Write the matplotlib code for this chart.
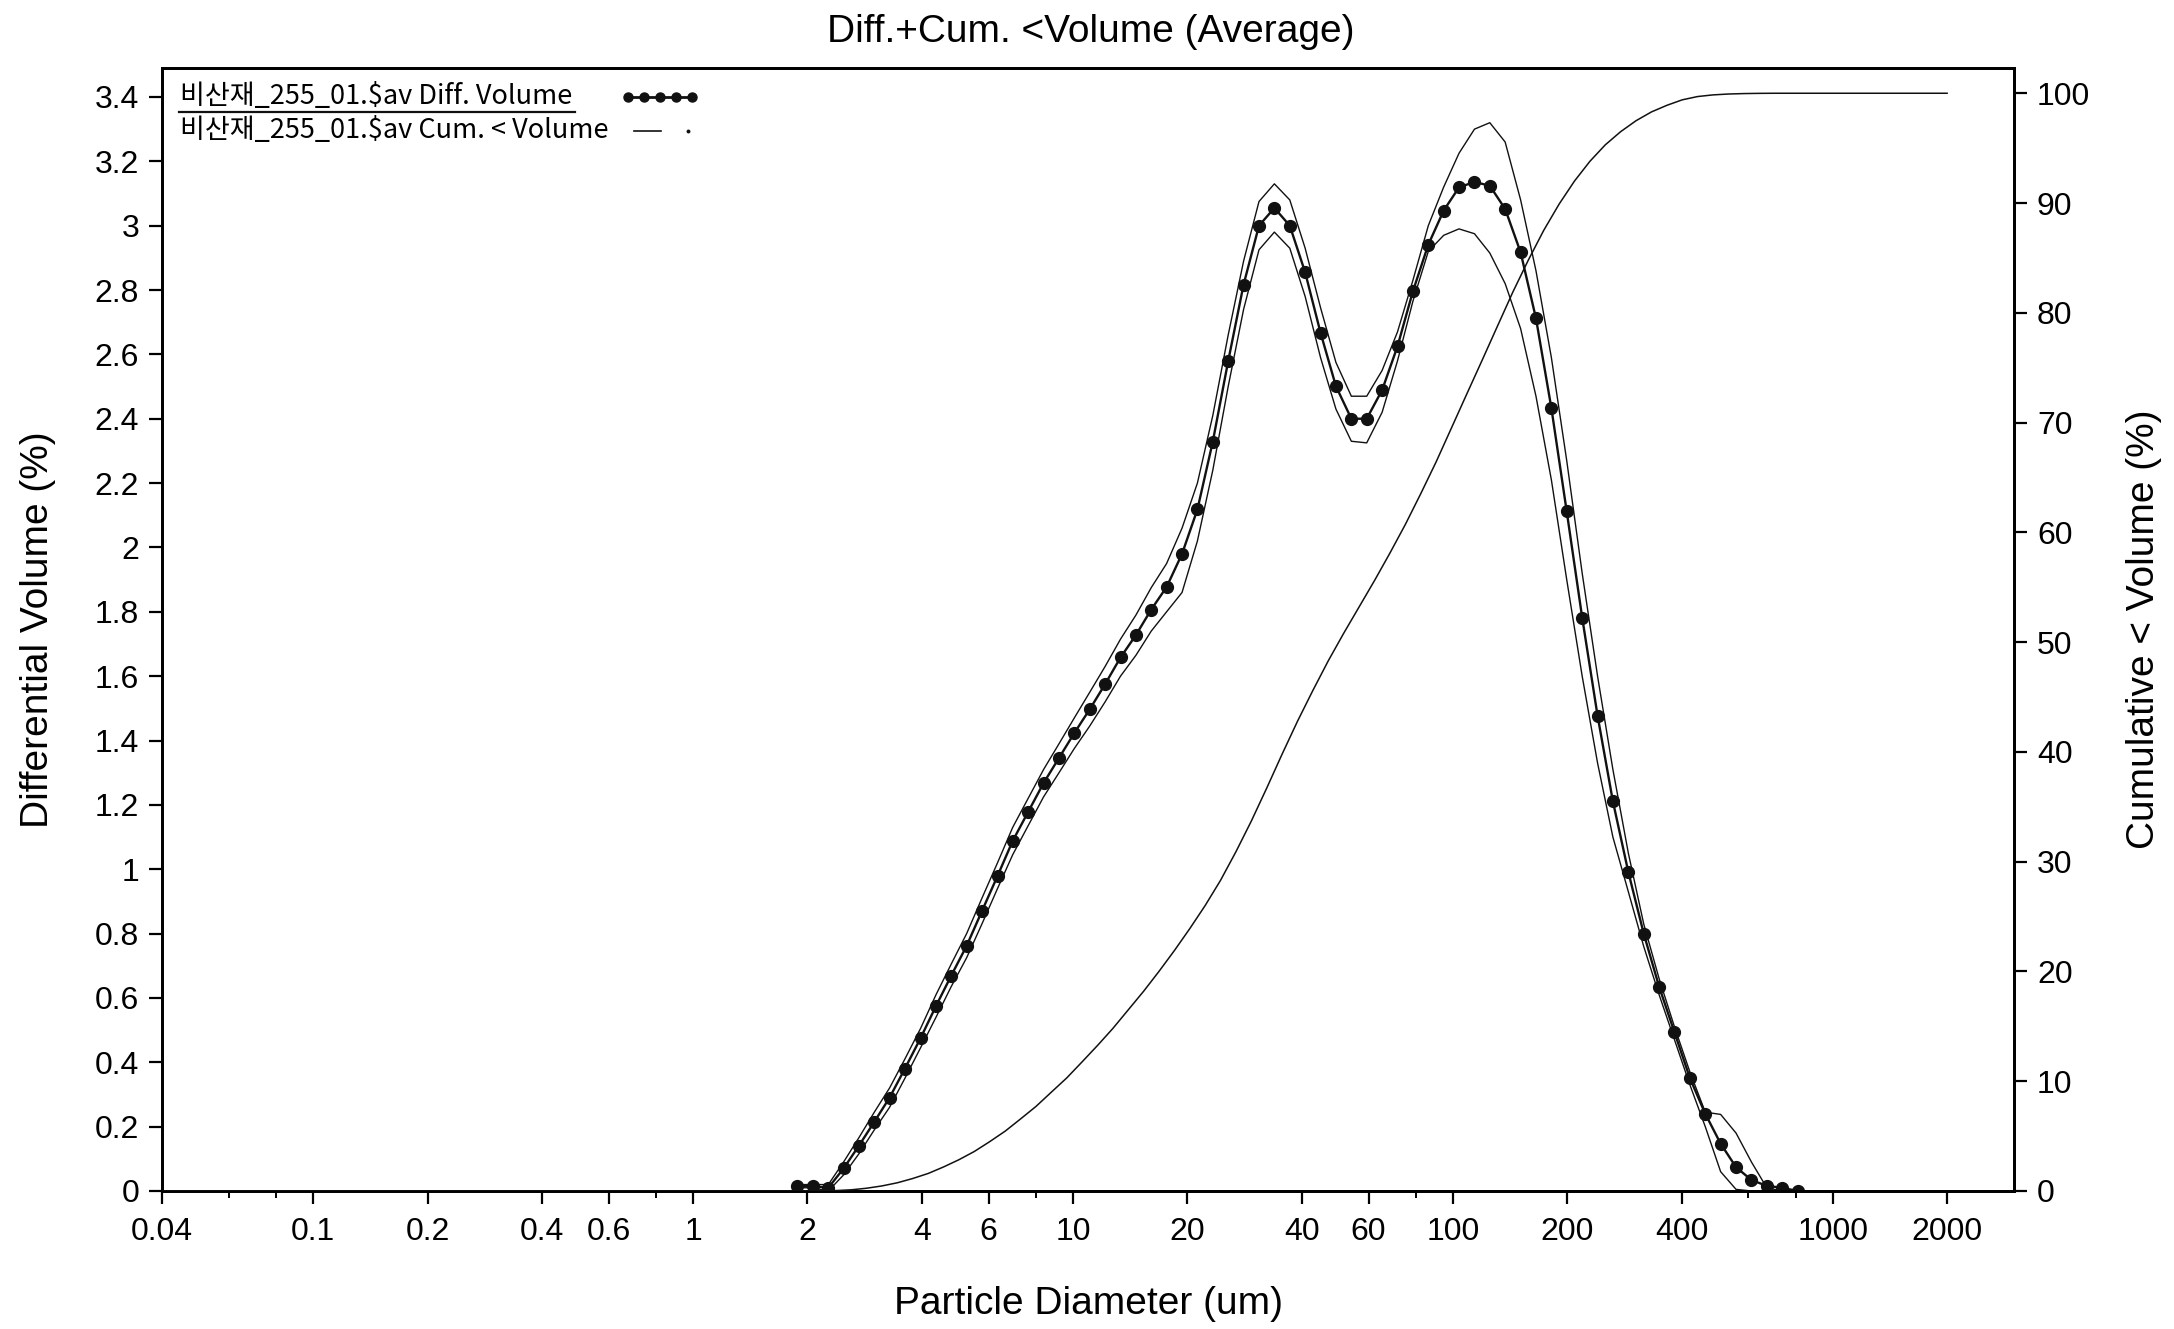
import matplotlib
matplotlib.use('Agg')
import matplotlib.pyplot as plt
from matplotlib.lines import Line2D
from matplotlib.ticker import FixedLocator, FixedFormatter, NullFormatter

plt.rcParams['font.family'] = ['Liberation Sans', 'Noto Sans CJK KR', 'DejaVu Sans']

# ---------------- data ----------------
size_um = [1.88, 2.07, 2.27, 2.49, 2.73, 3.00, 3.29, 3.61, 3.97, 4.36,
           4.78, 5.25, 5.76, 6.33, 6.94, 7.62, 8.37, 9.19, 10.08, 11.07,
           12.15, 13.34, 14.65, 16.07, 17.64, 19.37, 21.26, 23.34, 25.62, 28.13,
           30.88, 33.90, 37.22, 40.85, 44.85, 49.23, 54.05, 59.33, 65.13, 71.50,
           78.49, 86.17, 94.59, 103.8, 114.0, 125.1, 137.3, 150.8, 165.5, 181.7,
           199.4, 219.0, 240.4, 263.8, 289.7, 318.0, 349.1, 383.2, 420.7, 461.8,
           506.9, 556.5, 611.0, 670.6, 736.1, 808.1]

diff_mean = [0.015, 0.015, 0.010, 0.07, 0.14, 0.215, 0.29, 0.38, 0.475, 0.575,
             0.669, 0.762, 0.870, 0.979, 1.088, 1.178, 1.268, 1.346, 1.423, 1.497,
             1.575, 1.658, 1.728, 1.807, 1.877, 1.980, 2.118, 2.329, 2.579, 2.817,
             3.000, 3.055, 3.000, 2.855, 2.667, 2.501, 2.400, 2.400, 2.489, 2.625,
             2.796, 2.941, 3.047, 3.119, 3.136, 3.124, 3.052, 2.917, 2.712, 2.433,
             2.112, 1.782, 1.477, 1.211, 0.991, 0.800, 0.635, 0.493, 0.351, 0.240,
             0.147, 0.074, 0.034, 0.016, 0.010, 0.0]

diff_upper = [0.02, 0.02, 0.02, 0.09, 0.165, 0.245, 0.32, 0.41, 0.505, 0.61,
              0.705, 0.80, 0.91, 1.02, 1.13, 1.22, 1.31, 1.39, 1.47, 1.55,
              1.63, 1.715, 1.79, 1.875, 1.95, 2.06, 2.20, 2.41, 2.66, 2.89,
              3.075, 3.13, 3.08, 2.93, 2.745, 2.575, 2.47, 2.47, 2.55, 2.67,
              2.83, 3.00, 3.12, 3.225, 3.30, 3.32, 3.26, 3.08, 2.86, 2.59,
              2.27, 1.92, 1.60, 1.31, 1.05, 0.83, 0.66, 0.51, 0.37, 0.245,
              0.238, 0.18, 0.09, 0.01, 0.0, 0.0]

diff_lower = [0.01, 0.01, 0.0, 0.05, 0.115, 0.19, 0.26, 0.35, 0.445, 0.54,
              0.635, 0.725, 0.83, 0.94, 1.045, 1.135, 1.225, 1.30, 1.375, 1.445,
              1.52, 1.60, 1.665, 1.74, 1.80, 1.86, 2.02, 2.24, 2.50, 2.74,
              2.925, 2.98, 2.93, 2.78, 2.59, 2.43, 2.33, 2.325, 2.42, 2.58,
              2.765, 2.92, 2.97, 2.99, 2.975, 2.915, 2.82, 2.68, 2.47, 2.21,
              1.90, 1.60, 1.33, 1.10, 0.93, 0.76, 0.61, 0.47, 0.33, 0.20,
              0.06, 0.005, 0.0, 0.0, 0.0, 0.0]

cum_size_um = [0.04, 1.80, 1.97, 2.17, 2.38, 2.61, 2.86, 3.14, 3.45, 3.78, 4.16, 4.57,
               5.01, 5.50, 6.04, 6.63, 7.27, 7.99, 8.77, 9.63, 10.56, 11.60,
               12.73, 13.98, 15.35, 16.84, 18.49, 20.30, 22.28, 24.46, 26.85, 29.48,
               32.36, 35.53, 39.01, 42.81, 47.00, 51.59, 56.64, 62.18, 68.26, 74.93,
               82.26, 90.31, 99.13, 108.8, 119.5, 131.1, 143.9, 158.0, 173.4, 190.4,
               209.0, 229.5, 251.9, 276.5, 303.6, 333.3, 365.9, 401.6, 440.9, 484.0,
               531.2, 583.2, 640.3, 702.8, 771.4, 846.9, 2000]

cum_volume = [0, 0, 0.01, 0.03, 0.04, 0.11, 0.25, 0.46, 0.75, 1.13, 1.6, 2.2,
              2.85, 3.6, 4.5, 5.45, 6.55, 7.7, 9.0, 10.3, 11.75, 13.25,
              14.8, 16.5, 18.2, 20.0, 21.9, 23.9, 26.0, 28.3, 30.9, 33.7,
              36.7, 39.8, 42.8, 45.6, 48.3, 50.8, 53.2, 55.6, 58.1, 60.7,
              63.5, 66.4, 69.5, 72.6, 75.7, 78.8, 81.9, 84.8, 87.5, 89.9,
              92.0, 93.8, 95.3, 96.5, 97.5, 98.3, 98.9, 99.4, 99.7, 99.85,
              99.93, 99.97, 99.99, 100, 100, 100, 100]

x_major = [0.04, 0.1, 0.2, 0.4, 0.6, 1, 2, 4, 6, 10, 20, 40, 60, 100, 200, 400, 1000, 2000]
x_major_labels = ['0.04', '0.1', '0.2', '0.4', '0.6', '1', '2', '4', '6', '10', '20',
                  '40', '60', '100', '200', '400', '1000', '2000']
x_minor = [0.06, 0.08, 0.8, 8, 80, 600, 800]
y_left_ticks = [0, 0.2, 0.4, 0.6, 0.8, 1, 1.2, 1.4, 1.6, 1.8, 2, 2.2, 2.4, 2.6, 2.8, 3, 3.2, 3.4]
y_right_ticks = [0, 10, 20, 30, 40, 50, 60, 70, 80, 90, 100]

title = 'Diff.+Cum. <Volume (Average)'
legend_diff = '비산재_255_01.$av Diff. Volume'
legend_cum = '비산재_255_01.$av Cum. < Volume'

# ---------------- figure ----------------
W, H = 2174, 1329
fig = plt.figure(figsize=(W / 100, H / 100), dpi=100)
L, R, B, T = 162, 2014, 1191, 68
ax = fig.add_axes([L / W, 1 - B / H, (R - L) / W, (B - T) / H])
ax2 = ax.twinx()

ink = '#111111'
ax.plot(size_um, diff_upper, color=ink, lw=1.0, zorder=3)
ax.plot(size_um, diff_lower, color=ink, lw=1.0, zorder=3)
ax.plot(size_um, diff_mean, color=ink, lw=1.7, marker='o', ms=8.5,
        markerfacecolor=ink, markeredgecolor=ink, zorder=4)
ax2.plot(cum_size_um, cum_volume, color=ink, lw=1.1, zorder=3)

ax.set_xscale('log')
ax.set_xlim(0.04, 3000)
ax.set_ylim(0, 3.49)
ax2.set_ylim(0, 102.3)

ax.xaxis.set_major_locator(FixedLocator(x_major))
ax.xaxis.set_major_formatter(FixedFormatter(x_major_labels))
ax.xaxis.set_minor_locator(FixedLocator(x_minor))
ax.xaxis.set_minor_formatter(NullFormatter())
ax.set_yticks(y_left_ticks)
ax.set_yticklabels(['%g' % v for v in y_left_ticks])
ax2.set_yticks(y_right_ticks)
ax2.set_yticklabels(['%g' % v for v in y_right_ticks])

for a in (ax, ax2):
    for s in a.spines.values():
        s.set_linewidth(2.0)
        s.set_color('black')
ax.tick_params(axis='both', which='major', direction='out', length=9.5, width=1.6,
               labelsize=23, pad=7, colors='black')
ax.tick_params(axis='x', which='minor', direction='out', length=5, width=1.4)
ax.tick_params(axis='x', which='major', pad=9)
ax2.tick_params(axis='y', which='major', direction='out', length=9.5, width=1.6,
                labelsize=23, pad=7)

ax.set_xlabel('Particle Diameter (um)', fontsize=28, labelpad=28)
ax.set_ylabel('Differential Volume (%)', fontsize=28, labelpad=28)
ax2.set_ylabel('Cumulative < Volume (%)', fontsize=28, labelpad=26)
fig.text(1091 / W, 1 - 32 / H, title, fontsize=28, ha='center', va='center')

# ---------------- legend (manual, top-left inside axes) ----------------
lfont = ['Noto Sans CJK KR', 'DejaVu Sans']
def fx(px):
    return (px - L) / (R - L)
def fy(py):
    return (B - py) / (B - T)
ax.text(fx(180), fy(96), legend_diff, transform=ax.transAxes, fontsize=19.5,
        family=lfont, ha='left', va='center')
ax.text(fx(180), fy(130), legend_cum, transform=ax.transAxes, fontsize=19.5,
        family=lfont, ha='left', va='center')
ax.add_line(Line2D([fx(179), fx(575)], [fy(112), fy(112)], transform=ax.transAxes,
                   color=ink, lw=1.6))
ax.add_line(Line2D([fx(628), fx(692)], [fy(97), fy(97)], transform=ax.transAxes,
                   color=ink, lw=2, linestyle='-'))
for px in (628, 644, 660, 676, 692):
    ax.add_line(Line2D([fx(px)], [fy(97)], transform=ax.transAxes, color=ink,
                       marker='o', ms=6.5, linestyle='none'))
ax.add_line(Line2D([fx(634), fx(661)], [fy(131), fy(131)], transform=ax.transAxes,
                   color=ink, lw=1.2))
ax.add_line(Line2D([fx(688)], [fy(131)], transform=ax.transAxes, color=ink,
                   marker='o', ms=1.8, linestyle='none'))

fig.savefig('out.png', dpi=100)
